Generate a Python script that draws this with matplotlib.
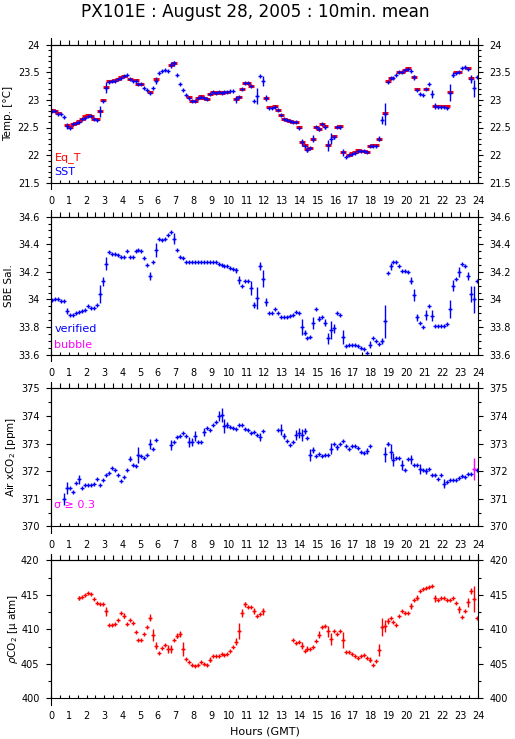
import numpy as np
import matplotlib
matplotlib.use('Agg')
import matplotlib.pyplot as plt
from matplotlib.ticker import MultipleLocator, FuncFormatter

W, H = 515, 739

# 10-minute means, bin centres (hours GMT)
hours = (np.arange(144) + 0.5) / 6

sst = [22.80, 22.79, 22.75, 22.74, 22.69, 22.53, 22.50, 22.56, 22.58, 22.60, 22.65, 22.68,
       22.71, 22.70, 22.65, 22.64, 22.79, 22.98, 23.22, 23.33, 23.34, 23.35, 23.37, 23.40,
       23.43, 23.46, 23.37, 23.34, 23.35, 23.28, 23.28, 23.22, 23.18, 23.13, 23.22, 23.35,
       23.48, 23.52, 23.55, 23.52, 23.63, 23.66, 23.45, 23.28, 23.18, 23.09, 23.04, 22.98,
       22.98, 23.03, 23.06, 23.03, 23.01, 23.10, 23.14, 23.12, 23.14, 23.12, 23.14, 23.15,
       23.16, 23.16, 23.01, 23.05, 23.20, 23.30, 23.30, 23.25, 22.98, 23.07, 23.44, 23.35,
       23.03, 22.86, 22.85, 22.88, 22.81, 22.73, 22.65, 22.63, 22.61, 22.60, 22.60, 22.50,
       22.23, 22.17, 22.10, 22.12, 22.30, 22.51, 22.47, 22.56, 22.51, 22.18, 22.30, 22.33,
       22.51, 22.51, 22.05, 21.97, 22.00, 22.02, 22.04, 22.08, 22.07, 22.07, 22.05, 22.16,
       22.17, 22.17, 22.30, 22.64, 22.75, 23.33, 23.39, 23.40, 23.46, 23.50, 23.50, 23.54,
       23.56, 23.53, 23.41, 23.18, 23.10, 23.08, 23.19, 23.28, 23.11, 22.89, 22.88, 22.88,
       22.87, 22.85, 23.13, 23.46, 23.49, 23.50, 23.57, 23.59, 23.56, 23.38, 23.21, 23.41]
sst_err = {5: 0.06, 16: 0.1, 18: 0.1, 35: 0.06, 40: 0.05, 41: 0.05, 62: 0.06, 69: 0.15,
           71: 0.09, 72: 0.05, 84: 0.07, 86: 0.04, 88: 0.07, 90: 0.04, 92: 0.04, 93: 0.1,
           94: 0.1, 95: 0.04, 97: 0.04, 98: 0.06, 110: 0.05, 111: 0.07, 112: 0.2, 122: 0.05,
           128: 0.07, 129: 0.05, 134: 0.15, 135: 0.04, 141: 0.08, 142: 0.15}
eqt = [22.81, 22.80, 22.77, None, None, 22.54, 22.51, 22.57, 22.59, 22.61, 22.66, 22.70,
       22.72, 22.71, 22.66, 22.65, 22.80, 23.00, 23.23, 23.34, 23.34, 23.36, 23.38, 23.41,
       23.44, None, 23.38, None, 23.36, 23.29, 23.29, None, None, 23.14, None, 23.37,
       None, None, None, None, 23.64, 23.67, None, None, None, None, 23.05, 22.98,
       22.98, 23.04, 23.07, 23.03, 23.01, 23.11, 23.14, 23.13, 23.14, 23.13, 23.14, 23.15,
       None, None, 23.02, 23.05, 23.20, 23.31, 23.30, 23.26, None, None, None, None,
       23.03, 22.87, 22.87, 22.89, 22.82, 22.73, 22.66, 22.63, 22.62, 22.60, 22.60, 22.51,
       22.23, 22.18, 22.11, 22.12, 22.30, 22.51, 22.47, 22.56, 22.52, 22.18, None, 22.34,
       22.51, 22.52, 22.05, None, 22.01, 22.03, 22.05, 22.09, 22.08, 22.08, 22.05, 22.16,
       22.18, 22.18, 22.30, None, 22.77, 23.34, 23.40, None, None, 23.51, 23.51, 23.55,
       23.57, None, 23.42, 23.19, None, None, 23.20, None, None, 22.89, 22.89, 22.89,
       None, 22.89, 23.14, None, 23.50, 23.50, None, None, 23.57, 23.39, None, None]

sal = [33.995, 34.00, 34.00, 33.99, 33.99, 33.915, 33.89, 33.89, 33.90, 33.91, 33.915, 33.92,
       33.95, 33.94, 33.935, 33.96, 34.04, 34.13, 34.26, 34.34, 34.33, 34.33, 34.32, 34.31,
       34.31, 34.35, 34.31, 34.31, 34.35, 34.36, 34.35, 34.30, 34.25, 34.17, 34.27, 34.36,
       34.44, 34.43, 34.44, 34.47, 34.49, 34.44, 34.36, 34.31, 34.30, 34.27, 34.27, 34.27,
       34.27, 34.27, 34.27, 34.27, 34.27, 34.27, 34.27, 34.27, 34.26, 34.25, 34.24, 34.24,
       34.23, 34.22, 34.21, 34.14, 34.10, 34.13, 34.13, 34.08, 33.96, 34.01, 34.24, 34.15,
       33.98, 33.90, 33.905, 33.93, 33.90, 33.87, 33.87, 33.87, 33.88, 33.89, 33.91, 33.905,
       33.80, 33.76, 33.72, 33.73, 33.83, 33.93, 33.86, 33.87, 33.83, 33.72, 33.78, 33.79,
       33.90, 33.89, 33.73, 33.66, 33.67, 33.67, 33.67, 33.66, 33.65, 33.64, 33.615, 33.67,
       33.72, 33.70, 33.675, 33.70, 33.84, 34.19, 34.24, 34.27, 34.27, 34.24, 34.205, 34.205,
       34.20, 34.135, 34.03, 33.87, 33.83, 33.80, 33.885, 33.95, 33.88, 33.81, 33.81, 33.81,
       33.81, 33.82, 33.93, 34.10, 34.15, 34.20, 34.26, 34.24, 34.17, 34.04, 34.00, 34.13]
sal_err = {5: 0.02, 16: 0.067, 17: 0.034, 18: 0.05, 33: 0.03, 35: 0.05, 41: 0.04, 62: 0.02,
           63: 0.03, 67: 0.05, 68: 0.02, 69: 0.08, 70: 0.03, 71: 0.06, 72: 0.03, 84: 0.06,
           85: 0.02, 88: 0.045, 90: 0.02, 92: 0.025, 93: 0.04, 94: 0.065, 95: 0.035, 98: 0.05,
           107: 0.025, 111: 0.02, 112: 0.12, 114: 0.025, 121: 0.027, 122: 0.042, 123: 0.025,
           126: 0.036, 128: 0.04, 134: 0.065, 135: 0.042, 137: 0.035, 140: 0.03, 141: 0.057,
           142: 0.1}

air = [None, None, None, None, 371.0, 371.4, 371.4, 371.25, 371.57, 371.7, 371.4, 371.49,
       371.49, 371.49, 371.55, 371.71, 371.49, 371.67, 371.85, 371.94, 372.13, 372.06, 371.85, 371.63,
       371.79, 372.06, 372.46, 372.21, 372.18, 372.58, 372.54, 372.48, 372.58, 373.0, 372.82, 373.12,
       None, None, None, None, 372.94, 373.06, 373.24, 373.27, 373.39, 373.27, 373.06, 373.06,
       373.27, 373.06, 373.06, 373.43, 373.55, 373.51, 373.67, 373.79, 374.0, 374.03, 373.64, 373.67,
       373.61, 373.57, 373.52, 373.67, 373.67, 373.52, 373.49, 373.39, 373.43, 373.31, 373.24, 373.45,
       None, None, None, None, 373.49, 373.51, 373.28, 373.09, 372.94, 373.06, 373.31, 373.40,
       373.31, 373.46, 373.22, 372.58, 372.76, 372.54, 372.64, 372.54, 372.58, 372.60, 372.82, 372.98,
       372.86, 372.97, 373.09, 372.91, 372.82, 372.92, 372.91, 372.85, 372.70, 372.66, 372.74, 372.91,
       None, None, None, None, 372.61, 373.0, 372.70, 372.42, 372.49, 372.49, 372.21, 372.06,
       372.46, 372.43, 372.24, 372.21, 372.09, 372.03, 372.01, 372.07, 371.85, 371.85, 371.71, 371.85,
       371.55, 371.61, 371.67, 371.67, 371.67, 371.77, 371.83, 371.79, 371.89, 371.91, 372.07, 372.03]
air_err = {4: 0.21, 5: 0.21, 9: 0.16, 26: 0.1, 29: 0.28, 33: 0.18, 40: 0.18, 46: 0.18, 47: 0.15,
           48: 0.18, 51: 0.15, 56: 0.18, 57: 0.26, 58: 0.25, 59: 0.12, 70: 0.15, 77: 0.21,
           78: 0.12, 82: 0.19, 83: 0.18, 84: 0.21, 85: 0.1, 87: 0.21, 88: 0.1, 94: 0.19, 96: 0.1,
           106: 0.1, 112: 0.28, 113: 0.05, 114: 0.27, 115: 0.24, 118: 0.18, 121: 0.17, 124: 0.18,
           126: 0.1, 132: 0.16, 142: 0.4}

pco2 = [None, None, None, None, None, None, None, None, None, 414.5, 414.7, 414.9,
        415.2, 415.1, 414.4, 413.8, 413.7, 413.7, 412.6, 410.6, 410.6, 410.7, 411.4, 412.3,
        412.0, 410.7, 411.3, 410.9, 409.6, 408.5, 408.4, 409.3, 410.4, 411.7, 409.2, 407.6,
        406.6, 407.3, 407.7, 407.1, 407.1, 408.4, 409.1, 409.3, 407.2, 405.7, 405.2, 404.8,
        404.7, 404.8, 405.3, 405.0, 404.8, 405.6, 406.2, 406.2, 406.2, 406.4, 406.3, 406.4,
        406.9, 407.5, 408.2, 409.7, 412.4, 413.6, 413.2, 413.2, 412.7, 411.9, 412.2, 412.6,
        None, None, None, None, None, None, None, None, None, 408.4, 408.0, 408.1,
        407.6, 406.9, 407.2, 407.2, 407.5, 408.3, 409.2, 410.3, 410.5, 409.7, 408.6, 409.7,
        409.3, 409.8, 408.4, 406.7, 406.7, 406.4, 406.1, 405.9, 406.1, 406.3, 405.9, 405.6,
        404.8, 405.4, 407.0, 410.4, 410.5, 411.2, 411.7, 411.0, 410.6, 412.0, 412.6, 412.4,
        412.4, 413.4, 414.3, 414.6, 415.6, 415.8, 416.0, 416.1, 416.3, 414.5, 414.3, 414.6,
        414.6, 414.3, 414.2, 414.5, 413.8, 412.9, 411.8, 412.7, 413.9, 415.6, 414.4, 411.7]
pco2_err = {9: 0.3, 18: 0.7, 24: 0.4, 33: 0.55, 34: 0.85, 35: 0.5, 39: 0.6, 40: 0.6, 42: 0.3,
            43: 0.4, 44: 1.0, 53: 0.4, 62: 0.5, 63: 1.15, 64: 0.55, 65: 0.4, 68: 0.45, 71: 0.5,
            84: 0.5, 86: 0.4, 90: 0.5, 93: 0.8, 94: 0.85, 98: 1.15, 107: 0.4, 110: 0.9,
            111: 1.3, 112: 0.85, 113: 0.4, 121: 0.4, 123: 0.4, 129: 0.5, 137: 0.5, 140: 0.6,
            141: 0.45, 142: 1.9}


def arr(v):
    return np.array([np.nan if x is None else x for x in v], dtype=float)


def errs(d):
    e = np.zeros(len(hours))
    for k, v in d.items():
        e[k] = v
    return e


fig = plt.figure(figsize=(W / 100, H / 100), dpi=100)
fmt = FuncFormatter(lambda v, p: '%g' % v)

panels = [
    (44.7, (21.5, 24), 0.5, 0.1, 'Temp. [°C]', 8.5),
    (216.6, (33.6, 34.6), 0.2, 0.05, 'SBE Sal.', 8.5),
    (388.4, (370, 375), 1, 0.5, 'Air xCO$_2$ [ppm]', 11.5),
    (560.3, (400, 420), 5, 2.5, r'$\rho$CO$_2$ [μ atm]', 12.5),
]
axes = []
for top, ylim, ymaj, ymin, ylab, labx in panels:
    ax = fig.add_axes([51 / W, 1 - (top + 138) / H, 427 / W, 138 / H])
    ax.set_xlim(0, 24)
    ax.set_ylim(*ylim)
    ax.xaxis.set_major_locator(MultipleLocator(1))
    ax.xaxis.set_minor_locator(MultipleLocator(0.5))
    ax.yaxis.set_major_locator(MultipleLocator(ymaj))
    ax.yaxis.set_minor_locator(MultipleLocator(ymin))
    ax.yaxis.set_major_formatter(fmt)
    ax.tick_params(axis='x', which='both', direction='in', length=2.3, width=0.8,
                   top=False, labelsize=7, pad=9.5)
    ax.tick_params(axis='y', which='both', direction='out', left=True, right=True,
                   labelleft=True, labelright=True, labelsize=7, pad=4.5, width=0.8)
    ax.tick_params(axis='y', which='major', length=3.8)
    ax.tick_params(axis='y', which='minor', length=1.9)
    sec = ax.secondary_xaxis('top')
    sec.xaxis.set_major_locator(MultipleLocator(0.5))
    sec.tick_params(axis='x', direction='out', length=3.4, width=0.8, labeltop=False)
    for s in list(ax.spines.values()) + list(sec.spines.values()):
        s.set_linewidth(0.8)
    ax.plot([0, 0], [-0.045, 1.045], transform=ax.transAxes, color='k', lw=0.8, clip_on=False)
    ax.plot([1, 1], [1, 1.045], transform=ax.transAxes, color='k', lw=0.8, clip_on=False)
    fig.text(labx / W, 1 - (top + 69) / H, ylab, rotation=90, ha='center', va='center', fontsize=7.5)
    axes.append(ax)

mk = dict(fmt='+', ms=3.5, mew=1.0, elinewidth=1.0, capsize=0, ls='none')

# temperature
ax = axes[0]
ax.plot(hours, arr(eqt), ls='none', marker='_', color='red', ms=4.5, mew=2.2)
ax.errorbar(hours, arr(sst), yerr=errs(sst_err), color='blue', **mk)
ax.text(0.008, 0.18, 'Eq_T', color='red', transform=ax.transAxes, fontsize=8, va='center')
ax.text(0.008, 0.078, 'SST', color='blue', transform=ax.transAxes, fontsize=8, va='center')

# salinity
ax = axes[1]
ax.errorbar(hours, arr(sal), yerr=errs(sal_err), color='blue', **mk)
ax.text(0.008, 0.184, 'verified', color='blue', transform=ax.transAxes, fontsize=8, va='center')
ax.text(0.008, 0.068, 'bubble', color='magenta', transform=ax.transAxes, fontsize=8, va='center')

# air xCO2, sigma >= 0.3 flagged in magenta
ax = axes[2]
a = arr(air)
e = errs(air_err)
flag = e >= 0.3
ax.errorbar(hours[~flag], a[~flag], yerr=e[~flag], color='blue', **mk)
ax.errorbar(hours[flag], a[flag], yerr=e[flag], color='magenta', **mk)
ax.text(0.008, 0.153, 'σ ≥ 0.3', color='magenta', transform=ax.transAxes, fontsize=8, va='center')

# pCO2
ax = axes[3]
ax.errorbar(hours, arr(pco2), yerr=errs(pco2_err), color='red', **mk)

fig.text(255 / W, 1 - 12 / H, 'PX101E : August 28, 2005 : 10min. mean', ha='center', va='center',
         fontsize=12.2)
fig.text(264.5 / W, 1 - 731 / H, 'Hours (GMT)', ha='center', va='center', fontsize=8)

fig.savefig('out.png', dpi=100)
